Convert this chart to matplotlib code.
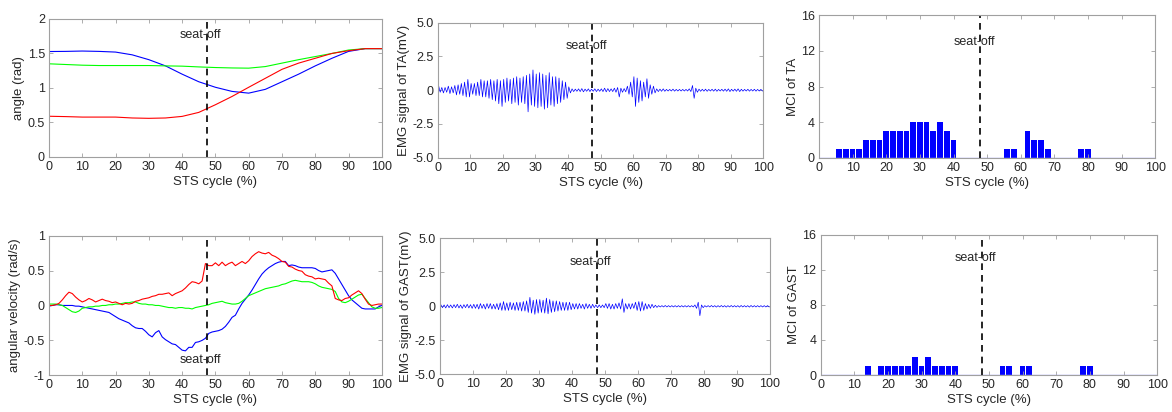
import numpy as np
import matplotlib
matplotlib.use("Agg")
import matplotlib.pyplot as plt

plt.rcParams['font.family'] = ['Liberation Sans', 'DejaVu Sans']

# ---------------- data ----------------
seat_off_x = 47.5
seat_off_x_mci = 48

# joint angles (rad), sampled every 5 % of the STS cycle
angle_x = [0, 5, 10, 15, 20, 25, 30, 35, 40, 45, 50, 55, 60, 65, 70, 75, 80, 85, 90, 95, 100]
angle_red = [0.59, 0.585, 0.578, 0.578, 0.578, 0.565, 0.56, 0.565, 0.588, 0.646, 0.757,
             0.877, 1.01, 1.14, 1.27, 1.36, 1.43, 1.50, 1.54, 1.57, 1.57]
angle_green = [1.35, 1.34, 1.33, 1.325, 1.325, 1.325, 1.325, 1.32, 1.316, 1.305, 1.296,
               1.29, 1.287, 1.31, 1.36, 1.41, 1.455, 1.50, 1.55, 1.57, 1.57]
angle_blue = [1.528, 1.53, 1.535, 1.53, 1.52, 1.48, 1.41, 1.32, 1.20, 1.09, 1.01,
              0.95, 0.925, 0.98, 1.09, 1.20, 1.32, 1.43, 1.53, 1.57, 1.57]

# angular velocities (rad/s), every 1 %
vel_x = list(range(0, 101))
vel_red = [0.00, 0.00, 0.01, 0.03, 0.08, 0.14, 0.19, 0.17, 0.12, 0.08,
           0.05, 0.07, 0.10, 0.08, 0.05, 0.07, 0.09, 0.07, 0.06, 0.04,
           0.05, 0.03, 0.01, 0.03, 0.02, 0.03, 0.06, 0.07, 0.09, 0.10,
           0.11, 0.13, 0.14, 0.16, 0.16, 0.17, 0.18, 0.14, 0.17, 0.19,
           0.21, 0.25, 0.30, 0.34, 0.33, 0.31, 0.35, 0.60, 0.57, 0.57,
           0.61, 0.57, 0.62, 0.57, 0.60, 0.62, 0.57, 0.60, 0.63, 0.60,
           0.64, 0.70, 0.74, 0.77, 0.75, 0.74, 0.76, 0.72, 0.70, 0.67,
           0.63, 0.62, 0.56, 0.55, 0.52, 0.50, 0.49, 0.44, 0.42, 0.41,
           0.38, 0.39, 0.38, 0.37, 0.32, 0.28, 0.10, 0.08, 0.07, 0.10,
           0.11, 0.15, 0.18, 0.21, 0.17, 0.09, 0.02, 0.00, 0.01, 0.02, 0.02]
vel_green = [0.02, 0.02, 0.02, 0.01, 0.00, -0.03, -0.06, -0.09, -0.10, -0.08,
             -0.04, -0.03, -0.02, -0.02, -0.01, -0.01, 0.00, 0.00, 0.01, 0.01,
             0.02, 0.02, 0.03, 0.04, 0.04, 0.05, 0.05, 0.03, 0.02, 0.02,
             0.01, 0.01, 0.00, 0.00, -0.01, -0.02, -0.03, -0.03, -0.04, -0.03,
             -0.03, -0.04, -0.04, -0.05, -0.03, -0.02, -0.01, 0.00, 0.01, 0.03,
             0.04, 0.05, 0.06, 0.04, 0.03, 0.02, 0.02, 0.03, 0.06, 0.10,
             0.14, 0.16, 0.18, 0.20, 0.22, 0.24, 0.25, 0.26, 0.27, 0.28,
             0.30, 0.31, 0.33, 0.35, 0.36, 0.35, 0.34, 0.34, 0.34, 0.33,
             0.31, 0.28, 0.26, 0.25, 0.24, 0.23, 0.20, 0.10, 0.05, 0.04,
             0.06, 0.09, 0.12, 0.15, 0.16, 0.10, 0.04, -0.02, -0.04, -0.04, -0.03]
vel_blue = [-0.01, 0.00, 0.01, 0.01, 0.00, 0.00, 0.00, 0.00, -0.01, -0.01,
            -0.02, -0.03, -0.04, -0.05, -0.06, -0.07, -0.08, -0.09, -0.10, -0.13,
            -0.16, -0.19, -0.21, -0.23, -0.25, -0.29, -0.32, -0.33, -0.33, -0.37,
            -0.42, -0.45, -0.39, -0.36, -0.45, -0.49, -0.52, -0.55, -0.56, -0.60,
            -0.64, -0.65, -0.60, -0.60, -0.53, -0.52, -0.50, -0.47, -0.40, -0.38,
            -0.37, -0.36, -0.34, -0.30, -0.24, -0.17, -0.14, -0.05, 0.03, 0.09,
            0.15, 0.22, 0.30, 0.38, 0.45, 0.50, 0.54, 0.57, 0.60, 0.62,
            0.63, 0.63, 0.57, 0.58, 0.57, 0.55, 0.54, 0.54, 0.54, 0.54,
            0.53, 0.50, 0.48, 0.49, 0.50, 0.51, 0.46, 0.38, 0.30, 0.22,
            0.14, 0.08, 0.04, 0.00, -0.04, -0.05, -0.05, -0.05, -0.05, -0.02, 0.00]

# EMG (mV): per-1 % bin max / min of the raw trace
ta_hi = [0.35, 0.2, 0.2, 0.3, 0.25, 0.35, 0.4, 0.5, 0.6, 0.8,
         0.5, 0.5, 0.6, 0.8, 0.7, 0.7, 0.8, 0.7, 0.8, 0.7,
         0.8, 0.9, 0.8, 0.9, 1.0, 0.9, 1.0, 1.1, 1.2, 1.5,
         1.2, 1.3, 1.2, 1.1, 1.3, 1.0, 1.0, 0.9, 0.7, 0.6,
         0.25, 0.1, 0.08, 0.1, 0.12, 0.08, 0.1, 0.08, 0.1, 0.08,
         0.1, 0.15, 0.12, 0.1, 0.15, 0.2, 0.15, 0.12, 0.3, 0.6,
         1.0, 0.9, 0.7, 0.6, 0.85, 0.4, 0.3, 0.1, 0.08, 0.1,
         0.06, 0.06, 0.08, 0.06, 0.06, 0.06, 0.06, 0.1, 0.35, 0.15,
         0.08, 0.07, 0.08, 0.06, 0.07, 0.08, 0.06, 0.07, 0.08, 0.1,
         0.07, 0.08, 0.1, 0.07, 0.06, 0.07, 0.06, 0.07, 0.06, 0.06]
ta_lo = [-0.15, -0.2, -0.15, -0.25, -0.2, -0.35, -0.3, -0.4, -0.5, -0.5,
         -0.3, -0.4, -0.4, -0.5, -0.5, -0.6, -0.7, -0.8, -1.0, -1.2,
         -0.9, -0.8, -1.0, -0.9, -1.1, -0.9, -1.0, -1.6, -1.1, -1.2,
         -1.3, -1.2, -1.4, -1.3, -1.1, -1.2, -1.0, -0.9, -0.7, -0.6,
         -0.2, -0.1, -0.08, -0.1, -0.12, -0.08, -0.1, -0.08, -0.1, -0.08,
         -0.1, -0.12, -0.1, -0.1, -0.15, -0.5, -0.15, -0.12, -0.3, -0.5,
         -1.2, -0.9, -0.8, -0.5, -0.6, -0.3, -0.2, -0.1, -0.08, -0.08,
         -0.06, -0.06, -0.07, -0.06, -0.06, -0.06, -0.06, -0.1, -0.6, -0.15,
         -0.08, -0.07, -0.08, -0.06, -0.07, -0.08, -0.06, -0.07, -0.08, -0.1,
         -0.07, -0.08, -0.1, -0.07, -0.06, -0.07, -0.06, -0.07, -0.06, -0.06]
gast_hi = [0.12, 0.1, 0.12, 0.1, 0.12, 0.15, 0.1, 0.12, 0.15, 0.12,
           0.15, 0.15, 0.2, 0.15, 0.2, 0.2, 0.15, 0.2, 0.25, 0.35,
           0.25, 0.3, 0.25, 0.3, 0.3, 0.35, 0.4, 0.66, 0.45, 0.5,
           0.5, 0.45, 0.6, 0.5, 0.4, 0.4, 0.35, 0.3, 0.3, 0.3,
           0.2, 0.2, 0.2, 0.15, 0.2, 0.15, 0.15, 0.1, 0.1, 0.1,
           0.2, 0.2, 0.15, 0.2, 0.25, 0.55, 0.2, 0.2, 0.2, 0.3,
           0.35, 0.35, 0.2, 0.15, 0.15, 0.08, 0.05, 0.05, 0.06, 0.05,
           0.05, 0.05, 0.05, 0.05, 0.05, 0.05, 0.05, 0.1, 0.3, 0.1,
           0.05, 0.05, 0.06, 0.05, 0.05, 0.06, 0.05, 0.05, 0.06, 0.05,
           0.05, 0.06, 0.05, 0.05, 0.06, 0.05, 0.05, 0.05, 0.05, 0.05]
gast_lo = [-0.1, -0.12, -0.1, -0.12, -0.1, -0.12, -0.15, -0.1, -0.12, -0.15,
           -0.15, -0.2, -0.15, -0.2, -0.15, -0.2, -0.2, -0.25, -0.3, -0.3,
           -0.3, -0.25, -0.3, -0.3, -0.35, -0.35, -0.45, -0.5, -0.59, -0.5,
           -0.45, -0.5, -0.55, -0.45, -0.4, -0.35, -0.3, -0.3, -0.3, -0.25,
           -0.2, -0.2, -0.15, -0.2, -0.15, -0.15, -0.1, -0.1, -0.1, -0.1,
           -0.15, -0.2, -0.2, -0.15, -0.2, -0.45, -0.2, -0.2, -0.15, -0.3,
           -0.35, -0.3, -0.2, -0.15, -0.1, -0.08, -0.05, -0.05, -0.05, -0.05,
           -0.05, -0.05, -0.05, -0.05, -0.05, -0.05, -0.05, -0.15, -0.69, -0.1,
           -0.05, -0.05, -0.05, -0.06, -0.05, -0.05, -0.06, -0.05, -0.05, -0.05,
           -0.06, -0.05, -0.05, -0.06, -0.05, -0.05, -0.05, -0.05, -0.05, -0.05]

# MCI bars
mci_x = list(range(2, 101, 2))
mci_ta = [0, 0, 1, 1, 1, 1, 2, 2, 2, 3,
          3, 3, 3, 4, 4, 4, 3, 4, 3, 2,
          0, 0, 0, 0, 0, 0, 0, 1, 1, 0,
          3, 2, 2, 1, 0, 0, 0, 0, 1, 1,
          0, 0, 0, 0, 0, 0, 0, 0, 0, 0]
mci_gast = [0, 0, 0, 0, 0, 0, 1, 0, 1, 1,
            1, 1, 1, 2, 1, 2, 1, 1, 1, 1,
            0, 0, 0, 0, 0, 0, 1, 1, 0, 1,
            1, 0, 0, 0, 0, 0, 0, 0, 1, 1,
            0, 0, 0, 0, 0, 0, 0, 0, 0, 0]

# ---------------- styling ----------------
TICK_C = '#262626'
SPINE_C = '#a0a0a0'
FS_TICK = 9
FS_LAB = 9.5
FS_TXT = 9

fig = plt.figure(figsize=(11.72, 4.12), dpi=100)


def style(ax, xlim, ylim, yticks, yticklabels=None):
    ax.set_xlim(*xlim)
    ax.set_ylim(*ylim)
    ax.set_xticks(range(0, 101, 10))
    ax.set_yticks(yticks)
    if yticklabels is not None:
        ax.set_yticklabels(yticklabels)
    for s in ax.spines.values():
        s.set_color(SPINE_C)
        s.set_linewidth(0.8)
    ax.tick_params(direction='in', length=3, width=0.6, color=SPINE_C,
                   labelcolor=TICK_C, labelsize=FS_TICK, top=True, right=True, pad=3)
    ax.set_xlabel('STS cycle (%)', fontsize=FS_LAB, color=TICK_C, labelpad=2)


def emg_trace(hi, lo):
    # min/max rendering of each 1 % bin of the dense EMG trace
    xs, ys = [], []
    for i, (h, l) in enumerate(zip(hi, lo)):
        xs += [i + 0.25, i + 0.75]
        ys += [h, l]
    return xs, ys


YPAD = 1.5

# angle
ax1 = fig.add_axes([0.0418, 0.619, 0.284, 0.335])
ax1.plot(angle_x, angle_blue, color='#0000ff', lw=0.8)
ax1.plot(angle_x, angle_green, color='#00ff00', lw=0.8)
ax1.plot(angle_x, angle_red, color='#ff0000', lw=0.8)
ax1.axvline(seat_off_x, color='k', ls=(0, (4, 3)), lw=1.2)
ax1.text(45.6, 1.77, 'seat-off', ha='center', va='center', fontsize=FS_TXT, color=TICK_C)
style(ax1, (0, 100), (0, 2), [0, 0.5, 1, 1.5, 2], ['0', '0.5', '1', '1.5', '2'])
ax1.set_ylabel('angle (rad)', fontsize=FS_LAB, color=TICK_C, labelpad=YPAD)

# angular velocity
ax2 = fig.add_axes([0.0418, 0.0891, 0.284, 0.339])
ax2.plot(vel_x, vel_blue, color='#0000ff', lw=0.8)
ax2.plot(vel_x, vel_green, color='#00ff00', lw=0.8)
ax2.plot(vel_x, vel_red, color='#ff0000', lw=0.8)
ax2.axvline(seat_off_x, color='k', ls=(0, (4, 3)), lw=1.2)
ax2.text(45.6, -0.78, 'seat-off', ha='center', va='center', fontsize=FS_TXT, color=TICK_C)
style(ax2, (0, 100), (-1, 1), [-1, -0.5, 0, 0.5, 1], ['-1', '-0.5', '0', '0.5', '1'])
ax2.set_ylabel('angular velocity (rad/s)', fontsize=FS_LAB, color=TICK_C, labelpad=YPAD)

emg_ticks = [-5, -2.5, 0, 2.5, 5]
emg_labels = ['-5.0', '-2.5', '0', '2.5', '5.0']

# EMG TA
ax3 = fig.add_axes([0.3735, 0.6172, 0.2778, 0.3277])
xs, ys = emg_trace(ta_hi, ta_lo)
ax3.plot(xs, ys, color='#0000ff', lw=0.5)
ax3.axvline(seat_off_x, color='k', ls=(0, (4, 3)), lw=1.2)
ax3.text(45.6, 3.26, 'seat-off', ha='center', va='center', fontsize=FS_TXT, color=TICK_C)
style(ax3, (0, 100), (-5, 5), emg_ticks, emg_labels)
ax3.set_ylabel('EMG signal of TA(mV)', fontsize=FS_LAB, color=TICK_C, labelpad=YPAD)

# EMG GAST
ax4 = fig.add_axes([0.3754, 0.0915, 0.2816, 0.3301])
xs, ys = emg_trace(gast_hi, gast_lo)
ax4.plot(xs, ys, color='#0000ff', lw=0.5)
ax4.axvline(seat_off_x, color='k', ls=(0, (4, 3)), lw=1.2)
ax4.text(45.6, 3.26, 'seat-off', ha='center', va='center', fontsize=FS_TXT, color=TICK_C)
style(ax4, (0, 100), (-5, 5), emg_ticks, emg_labels)
ax4.set_ylabel('EMG signal of GAST(mV)', fontsize=FS_LAB, color=TICK_C, labelpad=YPAD)

# MCI TA
ax5 = fig.add_axes([0.6988, 0.6172, 0.2870, 0.3456])
ax5.bar(mci_x, mci_ta, width=1.7, color='#0000ff', edgecolor='none')
ax5.axhline(0, color='#9999ff', lw=1.0)
ax5.axvline(seat_off_x_mci, color='k', ls=(0, (4, 3)), lw=1.2)
ax5.text(46.1, 13.0, 'seat-off', ha='center', va='center', fontsize=FS_TXT, color=TICK_C)
style(ax5, (0, 100), (0, 16), [0, 4, 8, 12, 16])
ax5.set_ylabel('MCI of TA', fontsize=FS_LAB, color=TICK_C, labelpad=YPAD)

# MCI GAST
ax6 = fig.add_axes([0.7002, 0.0898, 0.2872, 0.3405])
ax6.bar(mci_x, mci_gast, width=1.7, color='#0000ff', edgecolor='none')
ax6.axhline(0, color='#9999ff', lw=1.0)
ax6.axvline(seat_off_x_mci, color='k', ls=(0, (4, 3)), lw=1.2)
ax6.text(46.1, 13.3, 'seat-off', ha='center', va='center', fontsize=FS_TXT, color=TICK_C)
style(ax6, (0, 100), (0, 16), [0, 4, 8, 12, 16])
ax6.set_ylabel('MCI of GAST', fontsize=FS_LAB, color=TICK_C, labelpad=YPAD)

fig.savefig('out.png', dpi=100)
